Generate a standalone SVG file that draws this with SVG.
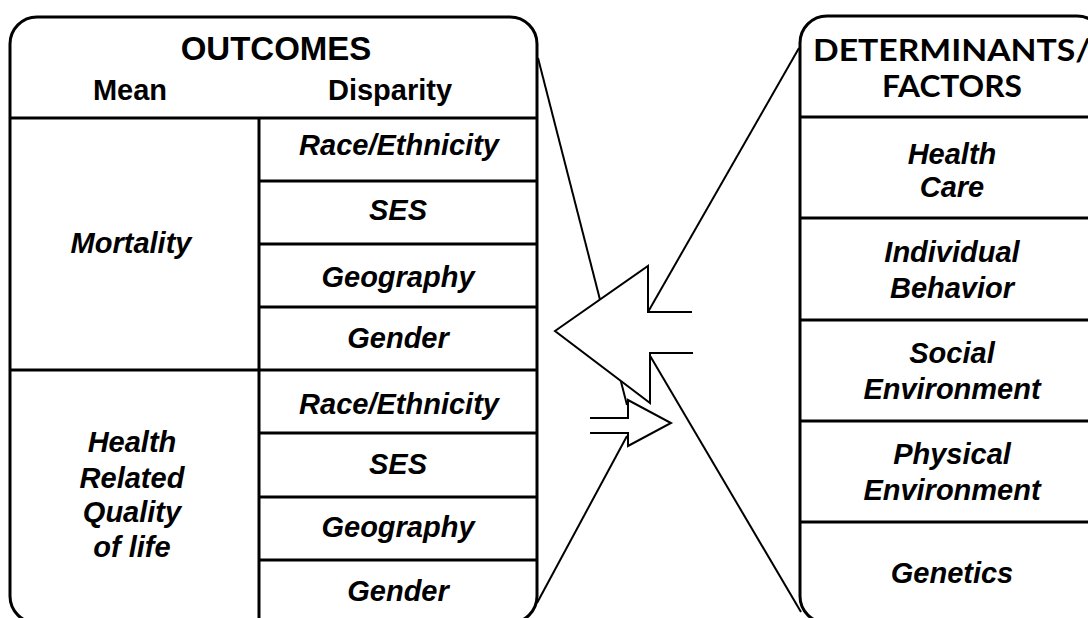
<svg xmlns="http://www.w3.org/2000/svg" width="1088" height="618" viewBox="0 0 1088 618">
<style>
.box{fill:#fff;stroke:#000;stroke-width:3}
.div{stroke:#000;stroke-width:3;fill:none}
.con{stroke:#000;stroke-width:2;fill:none}
.arr{stroke:#000;stroke-width:2;fill:#fff}
.h{font-family:"Liberation Sans",Arial,sans-serif;font-weight:bold;text-anchor:middle;fill:#000}
.t{font-family:"Liberation Sans",Arial,sans-serif;font-weight:bold;font-style:italic;font-size:29px;text-anchor:middle;fill:#000}
.c{font-family:Lato,"Open Sans",sans-serif;font-weight:bold;font-size:30px;text-anchor:middle;fill:#000}
</style>
<rect width="1088" height="618" fill="#fff"/>
<g id="outcomes">
<rect class="box" x="10" y="17" width="527" height="606" rx="27"/>
<line class="div" x1="10" y1="118" x2="537" y2="118"/>
<line class="div" x1="259" y1="118" x2="259" y2="623"/>
<line class="div" x1="10" y1="370" x2="537" y2="370"/>
<line class="div" x1="259" y1="181" x2="537" y2="181"/>
<line class="div" x1="259" y1="244" x2="537" y2="244"/>
<line class="div" x1="259" y1="307" x2="537" y2="307"/>
<line class="div" x1="259" y1="433" x2="537" y2="433"/>
<line class="div" x1="259" y1="497" x2="537" y2="497"/>
<line class="div" x1="259" y1="560" x2="537" y2="560"/>
<text class="h" x="276" y="60" font-size="33">OUTCOMES</text>
<text class="h" x="130" y="100" font-size="29">Mean</text>
<text class="h" x="390" y="100" font-size="29">Disparity</text>
<text class="t" x="131" y="253">Mortality</text>
<text class="t" x="132" y="452">Health</text>
<text class="t" x="132" y="488">Related</text>
<text class="t" x="132" y="522">Quality</text>
<text class="t" x="132" y="557">of life</text>
<text class="t" x="399" y="155">Race/Ethnicity</text>
<text class="t" x="398" y="220">SES</text>
<text class="t" x="398" y="287">Geography</text>
<text class="t" x="398" y="348">Gender</text>
<text class="t" x="399" y="414">Race/Ethnicity</text>
<text class="t" x="398" y="474">SES</text>
<text class="t" x="398" y="537">Geography</text>
<text class="t" x="398" y="601">Gender</text>
</g>
<g id="determinants">
<rect class="box" x="800" y="16" width="304" height="607" rx="27"/>
<line class="div" x1="800" y1="117" x2="1088" y2="117"/>
<line class="div" x1="800" y1="218" x2="1088" y2="218"/>
<line class="div" x1="800" y1="320" x2="1088" y2="320"/>
<line class="div" x1="800" y1="421" x2="1088" y2="421"/>
<line class="div" x1="800" y1="522" x2="1088" y2="522"/>
<text class="c" x="952" y="61" textLength="278" lengthAdjust="spacingAndGlyphs">DETERMINANTS/</text>
<text class="c" x="952" y="97" textLength="140" lengthAdjust="spacingAndGlyphs">FACTORS</text>
<text class="t" x="952" y="164">Health</text>
<text class="t" x="952" y="197">Care</text>
<text class="t" x="952" y="262">Individual</text>
<text class="t" x="952" y="298">Behavior</text>
<text class="t" x="952" y="363">Social</text>
<text class="t" x="952" y="399">Environment</text>
<text class="t" x="952" y="464">Physical</text>
<text class="t" x="952" y="500">Environment</text>
<text class="t" x="952" y="583">Genetics</text>
</g>
<g id="connectors">
<line class="con" x1="538" y1="58" x2="627" y2="405"/>
<line class="con" x1="537" y1="603" x2="627" y2="436"/>
<line class="con" x1="799" y1="48" x2="648" y2="312"/>
<line class="con" x1="801" y1="612" x2="649" y2="354"/>
</g>
<g id="arrow-small">
<path class="arr" d="M590,418 L628,418 L628,400 L671,423 L628,446 L628,433 L590,433"/>
</g>
<g id="arrow-big">
<path class="arr" d="M692,312 L648,312 L648,266 L555,331 L650,403 L650,353 L693,353"/>
</g>
</svg>
